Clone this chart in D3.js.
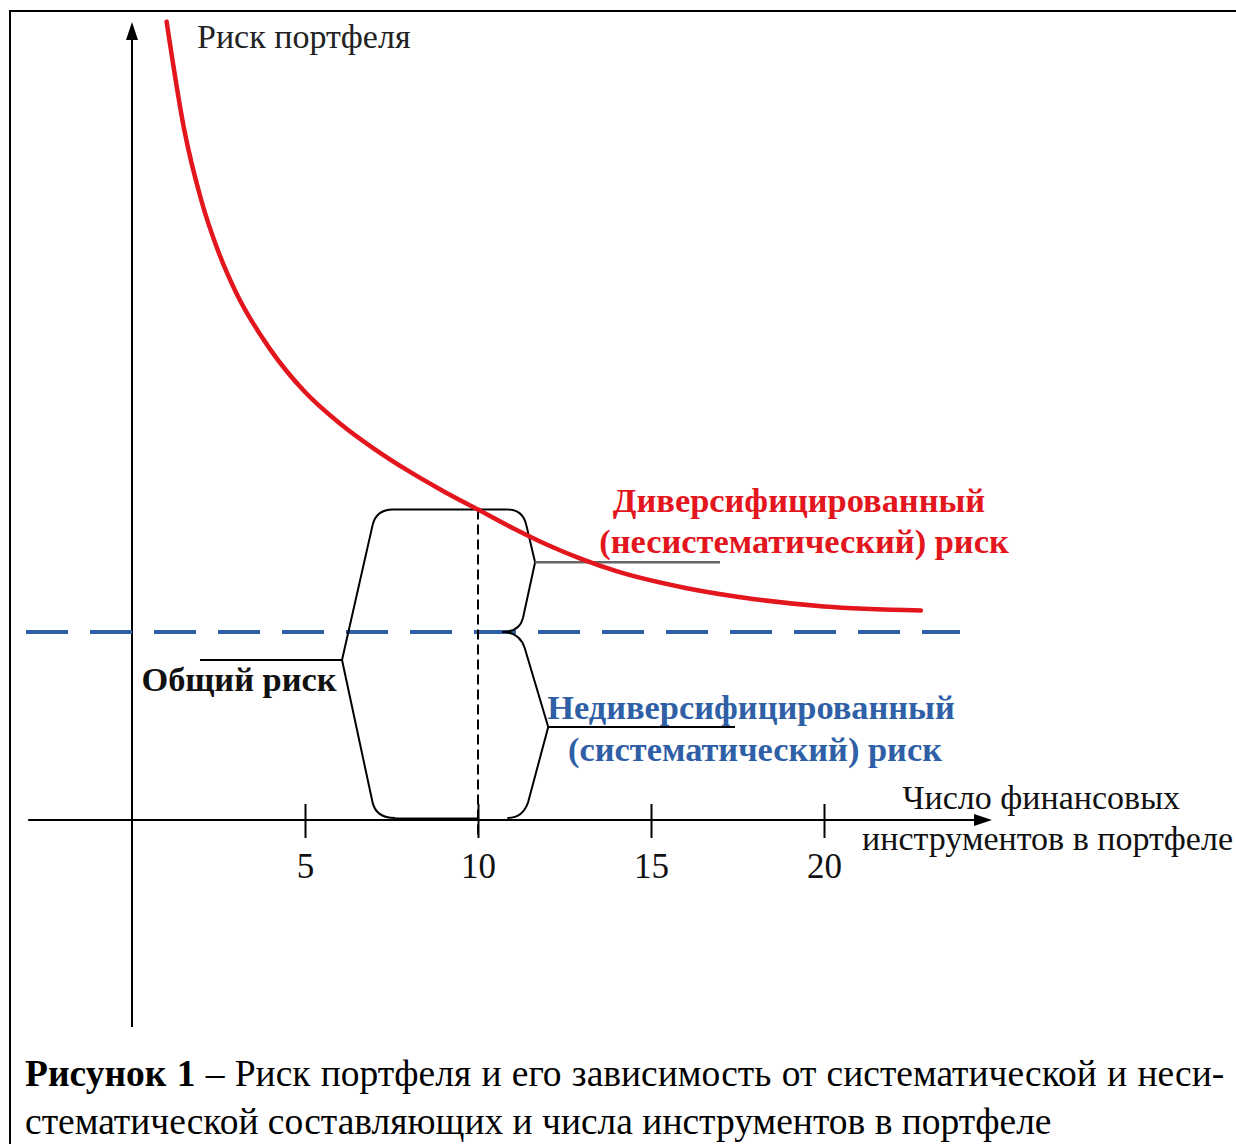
<!DOCTYPE html>
<html><head><meta charset="utf-8">
<script src="https://cdn.jsdelivr.net/npm/d3@7"></script>
<style>
html,body{margin:0;padding:0;background:#fff;}
svg{display:block;font-family:"Liberation Serif","Times New Roman",serif;}
</style></head>
<body>
<svg id="chart" width="1236" height="1144"></svg>
<script>
// ---- data ----
const nInstruments = [1, 1.5, 2, 2.5, 3, 4, 5, 6, 7, 8, 9, 10, 11, 12, 13, 14, 16, 18, 20, 22.8];
const totalRisk    = [99.8, 86.5, 77.5, 71, 66, 58.8, 53.5, 49.6, 46.4, 43.6, 41.1, 38.8, 36.5, 34.4, 32.6, 31.1, 29.0, 27.6, 26.7, 26.2];
const systematicRisk = 23.5;
const xTicks = [5, 10, 15, 20];
const yAxisTitle = "Риск портфеля";
const xAxisTitle = ["Число финансовых", "инструментов в портфеле"];
const diversLabel = ["Диверсифицированный", "(несистематический) риск"];
const nonDiversLabel = ["Недиверсифицированный", "(систематический) риск"];
const totalLabel = "Общий риск";
const captionBold = "Рисунок 1";
const captionLine1 = " – Риск портфеля и его зависимость от систематической и неси-";
const captionLine2 = "стематической составляющих и числа инструментов в портфеле";
const markerN = 10;

// ---- scales ----
const x = d3.scaleLinear().domain([0, 20]).range([132, 824]);
const y = d3.scaleLinear().domain([0, 100]).range([820, 20]);

const svg = d3.select("#chart");
const RED = "#e3151d", BLUE = "#2f5fa6";

// frame
svg.append("rect").attr("x", 10).attr("y", 11).attr("width", 1260).attr("height", 1200)
  .attr("fill", "none").attr("stroke", "#000").attr("stroke-width", 2);

// axes
const ax = svg.append("g").attr("stroke", "#000");
ax.append("line").attr("x1", x(-3)).attr("x2", 980).attr("y1", y(0)).attr("y2", y(0)).attr("stroke-width", 2);
ax.append("line").attr("x1", x(0)).attr("x2", x(0)).attr("y1", 1027).attr("y2", 32).attr("stroke-width", 2);
svg.append("path").attr("d", `M${x(0)},22 L${x(0)-6},40 L${x(0)+6},40 Z`).attr("fill", "#000");
svg.append("path").attr("d", `M992,${y(0)} L974,${y(0)-6} L974,${y(0)+6} Z`).attr("fill", "#000");

const xAxis = d3.axisBottom(x).tickValues(xTicks).tickSize(18).tickPadding(15).tickFormat(d3.format("d"));
const gx = svg.append("g").attr("transform", `translate(0,${y(0)})`).call(xAxis);
gx.select(".domain").remove();
gx.selectAll(".tick line").attr("y1", -16).attr("stroke", "#000").attr("stroke-width", 2);
gx.selectAll(".tick text").attr("font-family", "Liberation Serif").attr("font-size", 35).attr("fill", "#111");

// axis titles
svg.append("text").attr("x", 197).attr("y", 48).attr("font-size", 34).attr("fill", "#222").text(yAxisTitle);
svg.append("text").attr("x", 1180).attr("y", 809).attr("text-anchor", "end").attr("font-size", 34).attr("fill", "#111").text(xAxisTitle[0]);
svg.append("text").attr("x", 1233).attr("y", 850).attr("text-anchor", "end").attr("font-size", 34).attr("fill", "#111").text(xAxisTitle[1]);

// systematic risk dashed line
svg.append("line").attr("x1", 26).attr("x2", 960).attr("y1", y(systematicRisk)).attr("y2", y(systematicRisk))
  .attr("stroke", BLUE).attr("stroke-width", 4).attr("stroke-dasharray", "42,22");

// vertical dashed marker at n = 10
const riskAt10 = totalRisk[nInstruments.indexOf(markerN)];
svg.append("line").attr("x1", x(markerN)).attr("x2", x(markerN)).attr("y1", y(riskAt10)).attr("y2", y(0) + 18)
  .attr("stroke", "#000").attr("stroke-width", 2).attr("stroke-dasharray", "10,5");

// braces
const yT = y(riskAt10), yM = y(systematicRisk), yB = y(0) - 2;
const yTipU = yT + (yM - yT) * 0.43, yTipL = (yM + yB) / 2 + 2, yTipTot = y(0) - 160;
const br = svg.append("g").attr("fill", "none").attr("stroke", "#000").attr("stroke-width", 2);
br.append("path").attr("d",
  `M${x(10.85)},${yT} L${x(7.55)},${yT} Q${x(7.05)},${yT} ${x(6.95)},${yT+16} L${x(6.07)},${yTipTot} L${x(6.95)},${yB-16} Q${x(7.05)},${yB} ${x(7.6)},${yB}`);
br.append("path").attr("d",
  `M${x(10.85)},${yT} Q${x(11.3)},${yT} ${x(11.4)},${yT+16} L${x(11.65)},${yTipU} L${x(11.3)},${yM-14} Q${x(11.2)},${yM} ${x(10.7)},${yM}`);
br.append("path").attr("d",
  `M${x(10.7)},${yM} Q${x(11.2)},${yM} ${x(11.35)},${yM+16} L${x(12.03)},${yTipL} L${x(11.45)},${yB-16} Q${x(11.3)},${yB} ${x(10.85)},${yB}`);
svg.append("line").attr("x1", x(7.6)).attr("x2", x(10)).attr("y1", yB+1).attr("y2", yB+1).attr("stroke", "#000").attr("stroke-width", 3);

// leader lines
svg.append("line").attr("x1", x(11.65)).attr("x2", 720).attr("y1", yTipU).attr("y2", yTipU).attr("stroke", "#666").attr("stroke-width", 2.5);
svg.append("line").attr("x1", x(12.03)).attr("x2", 735).attr("y1", yTipL).attr("y2", yTipL).attr("stroke", "#000").attr("stroke-width", 2);
svg.append("line").attr("x1", 200).attr("x2", x(6.07)).attr("y1", yTipTot).attr("y2", yTipTot).attr("stroke", "#000").attr("stroke-width", 2);

// total risk curve
const line = d3.line().x((d, i) => x(nInstruments[i])).y(d => y(d)).curve(d3.curveMonotoneX);
svg.append("path").datum(totalRisk).attr("d", line).attr("fill", "none")
  .attr("stroke", RED).attr("stroke-width", 4.5).attr("stroke-linecap", "round");

// labels
const lbl = svg.append("g").attr("font-weight", "bold").attr("text-anchor", "middle").attr("font-size", 34.4);
lbl.append("text").attr("x", 799).attr("y", 512).attr("fill", RED).text(diversLabel[0]);
lbl.append("text").attr("x", 804).attr("y", 553).attr("fill", RED).text(diversLabel[1]);
lbl.append("text").attr("x", 751).attr("y", 719).attr("fill", BLUE).text(nonDiversLabel[0]);
lbl.append("text").attr("x", 755).attr("y", 761).attr("fill", BLUE).text(nonDiversLabel[1]);
lbl.append("text").attr("x", 239).attr("y", 691).attr("fill", "#111").text(totalLabel);

// caption
const c1 = svg.append("text").attr("x", 25).attr("y", 1086).attr("font-size", 37.5).attr("word-spacing", 0.9).attr("fill", "#000");
c1.append("tspan").attr("font-weight", "bold").text(captionBold);
c1.append("tspan").text(captionLine1);
svg.append("text").attr("x", 25).attr("y", 1134).attr("font-size", 37.5).attr("fill", "#000").text(captionLine2);
</script>
</body></html>
